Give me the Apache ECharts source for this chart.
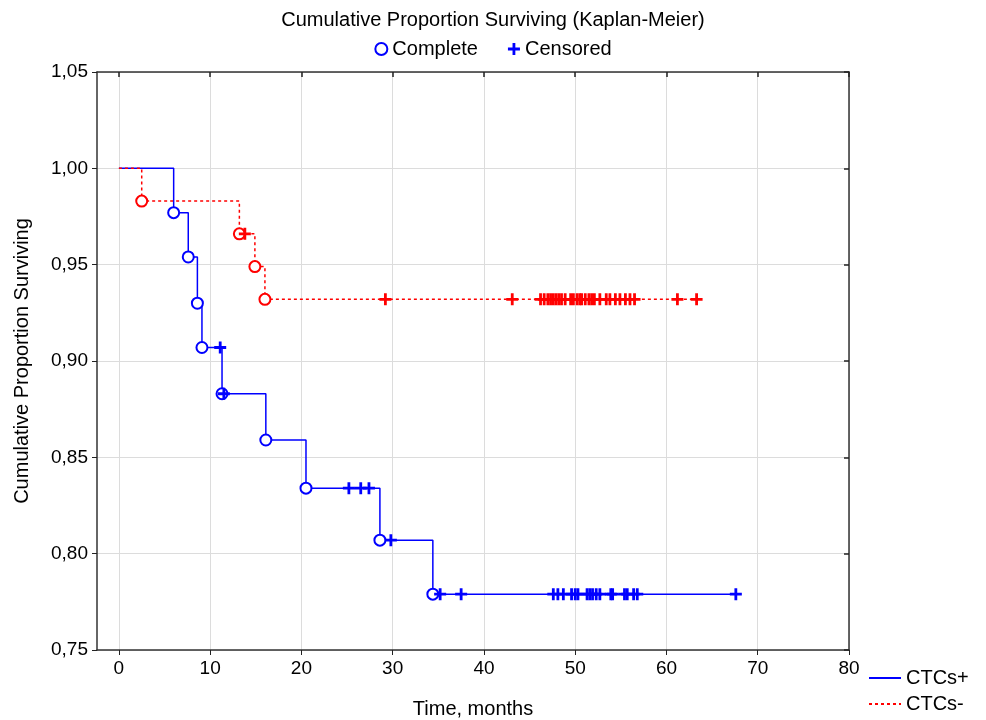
<!DOCTYPE html>
<html>
<head>
<meta charset="utf-8">
<script src="https://cdn.jsdelivr.net/npm/echarts@6/dist/echarts.min.js"></script>
<style>
  html, body { margin: 0; padding: 0; background: #fff; }
  #chart { width: 986px; height: 720px; }
</style>
</head>
<body>
<div id="chart"></div>
<script>
// step curves: [time, survival] at start and after each event
const posSteps = [[0, 1.0], [6.0, 0.977], [7.6, 0.954], [8.6, 0.930], [9.1, 0.907], [11.3, 0.883],
  [16.1, 0.859], [20.5, 0.834], [28.6, 0.807], [34.4, 0.779], [67.6, 0.779]]
const negSteps = [[0, 1.0], [2.5, 0.983], [13.2, 0.966], [14.9, 0.949], [16.0, 0.932], [63.3, 0.932]]

// complete (event) times
const posEvents = [[6.0, 0.977], [7.6, 0.954], [8.6, 0.930], [9.1, 0.907], [11.3, 0.883],
  [16.1, 0.859], [20.5, 0.834], [28.6, 0.807], [34.4, 0.779]]
const negEvents = [[2.5, 0.983], [13.2, 0.966], [14.9, 0.949], [16.0, 0.932]]

// censored times
const posCensored = [[11.1, 0.907], [11.5, 0.883], [25.2, 0.834], [26.5, 0.834], [27.4, 0.834], [29.8, 0.807],
  [35.2, 0.779], [37.5, 0.779], [47.6, 0.779], [48.1, 0.779], [48.7, 0.779], [49.6, 0.779], [50.0, 0.779],
  [50.3, 0.779], [51.3, 0.779], [51.6, 0.779], [51.9, 0.779], [52.3, 0.779], [52.7, 0.779], [53.9, 0.779],
  [54.1, 0.779], [55.4, 0.779], [55.7, 0.779], [56.4, 0.779], [56.8, 0.779], [67.6, 0.779]]
const negCensored = [[13.8, 0.966], [29.2, 0.932], [43.1, 0.932], [46.2, 0.932], [46.6, 0.932], [47.0, 0.932],
  [47.3, 0.932], [47.6, 0.932], [47.9, 0.932], [48.2, 0.932], [48.5, 0.932], [48.9, 0.932], [49.5, 0.932],
  [49.8, 0.932], [50.2, 0.932], [50.5, 0.932], [50.7, 0.932], [51.1, 0.932], [51.5, 0.932], [51.8, 0.932],
  [52.1, 0.932], [52.7, 0.932], [53.4, 0.932], [53.8, 0.932], [54.4, 0.932], [54.9, 0.932], [55.5, 0.932],
  [56.0, 0.932], [56.5, 0.932], [61.2, 0.932], [63.3, 0.932]]

const xTicks = [0, 10, 20, 30, 40, 50, 60, 70, 80]

const BLUE = '#0000ff'
const RED = '#ff0000'
const plus = 'path://M4.6,0H7.4V4.6H12V7.4H7.4V12H4.6V7.4H0V4.6H4.6Z'
const font = 'Liberation Sans, Arial, sans-serif'

const chart = echarts.init(document.getElementById('chart'))

chart.setOption({
  animation: false,
  textStyle: { fontFamily: font },
  title: {
    text: 'Cumulative Proportion Surviving (Kaplan-Meier)',
    left: 'center',
    top: 5,
    textStyle: { fontSize: 20, fontWeight: 'normal', color: '#000', fontFamily: font },
  },
  legend: [
    {
      data: ['Complete', 'Censored'],
      top: 34,
      left: 'center',
      itemWidth: 12,
      itemHeight: 12,
      itemGap: 30,
      textStyle: { fontSize: 20, color: '#000', fontFamily: font },
    },
    {
      data: ['CTCs+', 'CTCs-'],
      orient: 'vertical',
      left: 863,
      bottom: 1,
      itemWidth: 32,
      itemHeight: 12,
      itemGap: 6,
      itemStyle: { opacity: 0 },
      textStyle: { fontSize: 20, color: '#000', fontFamily: font },
    },
  ],
  grid: { left: 97, right: 137, top: 72, bottom: 70, outerBoundsMode: 'none' },
  xAxis: [
    {
      type: 'value',
      min: -2.4,
      max: 80,
      name: 'Time, months',
      nameLocation: 'middle',
      nameGap: 49,
      nameTextStyle: { fontSize: 20, color: '#000', fontFamily: font },
      axisLine: { onZero: false, lineStyle: { color: '#333', width: 1.5 } },
      axisTick: { length: 5, customValues: xTicks, lineStyle: { color: '#222' } },
      axisLabel: { customValues: xTicks, fontSize: 19, color: '#000', margin: 9, fontFamily: font },
      splitLine: { show: true, lineStyle: { color: '#dcdcdc', width: 1 } },
    },
    {
      type: 'value',
      position: 'top',
      min: -2.4,
      max: 80,
      axisLine: { onZero: false, lineStyle: { color: '#333', width: 1.5 } },
      axisTick: { inside: true, length: 5, customValues: xTicks, lineStyle: { color: '#222', width: 1.5 } },
      axisLabel: { show: false },
      splitLine: { show: false },
    },
  ],
  yAxis: [
    {
      type: 'value',
      min: 0.75,
      max: 1.05,
      interval: 0.05,
      name: 'Cumulative Proportion Surviving',
      nameLocation: 'middle',
      nameGap: 65,
      nameTextStyle: { fontSize: 20, color: '#000', fontFamily: font },
      axisLine: { show: true, onZero: false, lineStyle: { color: '#333', width: 1.5 } },
      axisTick: { show: true, length: 5, lineStyle: { color: '#222' } },
      axisLabel: {
        fontSize: 19, color: '#000', margin: 9, fontFamily: font,
        formatter: v => v.toFixed(2).replace('.', ','),
      },
      splitLine: { show: true, lineStyle: { color: '#dcdcdc', width: 1 } },
    },
    {
      type: 'value',
      position: 'right',
      min: 0.75,
      max: 1.05,
      interval: 0.05,
      axisLine: { show: true, onZero: false, lineStyle: { color: '#333', width: 1.5 } },
      axisTick: { show: true, inside: true, length: 5, lineStyle: { color: '#222', width: 1.5 } },
      axisLabel: { show: false },
      splitLine: { show: false },
    },
  ],
  series: [
    {
      name: 'CTCs+',
      type: 'line',
      step: 'end',
      data: posSteps,
      symbol: 'none',
      lineStyle: { color: BLUE, width: 1.5 },
      itemStyle: { color: BLUE },
      z: 2,
    },
    {
      name: 'CTCs-',
      type: 'line',
      step: 'end',
      data: negSteps,
      symbol: 'none',
      lineStyle: { color: RED, width: 1.5, type: [3, 3] },
      itemStyle: { color: RED },
      z: 2,
    },
    {
      name: 'Complete',
      type: 'scatter',
      data: posEvents,
      symbol: 'emptyCircle',
      symbolSize: 11,
      itemStyle: { color: BLUE, borderColor: BLUE, borderWidth: 2, opacity: 1 },
      z: 3,
    },
    {
      name: 'Complete',
      type: 'scatter',
      data: negEvents,
      symbol: 'emptyCircle',
      symbolSize: 11,
      itemStyle: { color: RED, borderColor: RED, borderWidth: 2, opacity: 1 },
      z: 3,
    },
    {
      name: 'Censored',
      type: 'scatter',
      data: posCensored,
      symbol: plus,
      symbolSize: 12,
      itemStyle: { color: BLUE, opacity: 1 },
      z: 3,
    },
    {
      name: 'Censored',
      type: 'scatter',
      data: negCensored,
      symbol: plus,
      symbolSize: 12,
      itemStyle: { color: RED, opacity: 1 },
      z: 3,
    },
  ],
})
</script>
</body>
</html>
